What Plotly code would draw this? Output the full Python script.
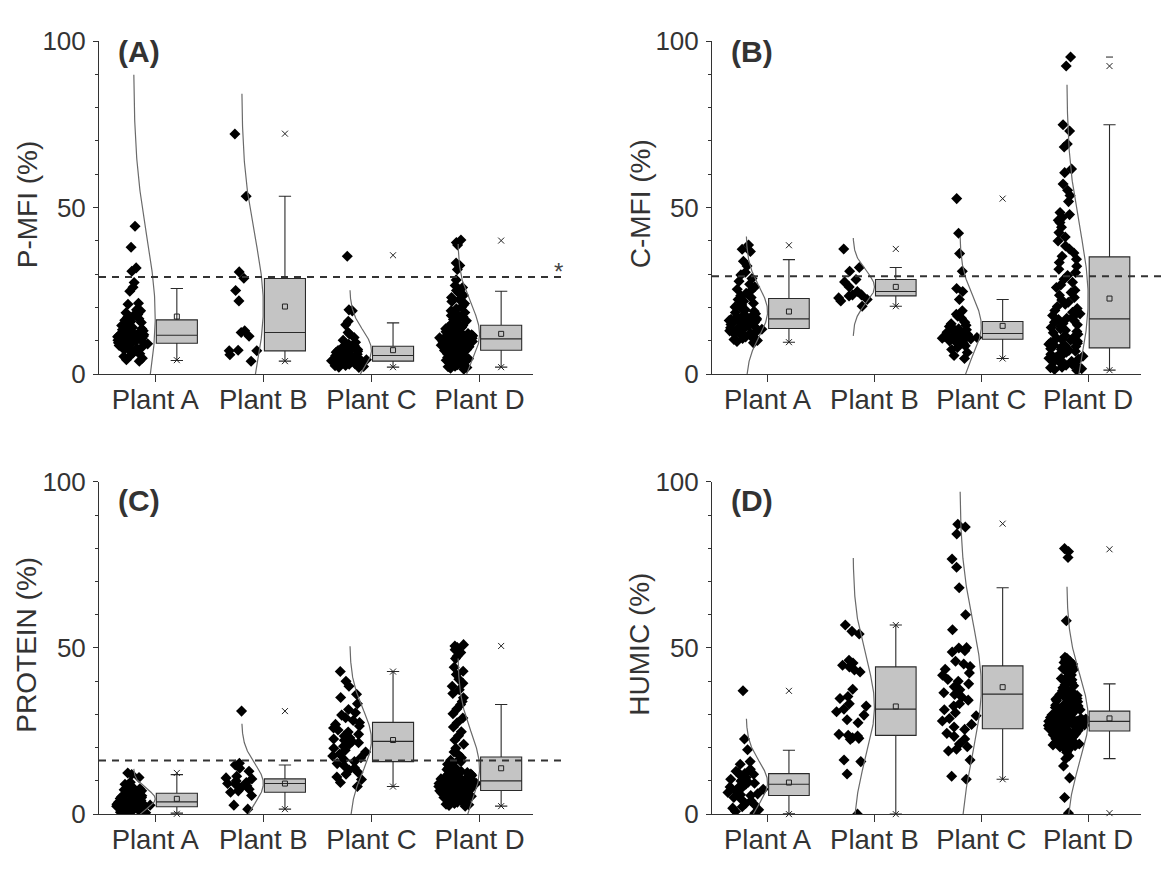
import numpy as np
import plotly.graph_objects as go

# ---------------- data ----------------
plants = ["Plant A", "Plant B", "Plant C", "Plant D"]
panel_labels = ["(A)", "(B)", "(C)", "(D)"]
y_titles = ["P-MFI (%)", "C-MFI (%)", "PROTEIN (%)", "HUMIC (%)"]
thresholds = [29.2, 29.4, 16.1, None]

# raw sample values
pmfi_a = [44.4, 38.1, 31.9, 30.9, 27.5, 26.1, 24.9, 21.3, 21.0, 19.3, 19.0, 18.4, 17.9, 17.6, 17.1, 16.6,
          16.2, 15.8, 15.5, 15.1, 14.6, 14.3, 14.0, 13.6, 13.3, 13.0, 12.7, 12.5, 12.3, 12.1, 11.9, 11.8,
          11.6, 11.4, 11.2, 11.0, 10.9, 10.7, 10.5, 10.3, 10.2, 10.0, 9.9, 9.8, 9.7, 9.5, 9.4, 9.3,
          9.1, 8.8, 8.6, 8.3, 8.0, 7.7, 7.4, 7.1, 6.8, 6.4, 6.1, 5.7, 5.3, 4.8, 4.3, 3.9]
pmfi_b = [72.1, 53.4, 30.7, 28.8, 25.1, 22.0, 13.0, 12.5, 11.4, 7.2, 7.0, 7.0, 5.8, 3.9]
pmfi_c = [35.4, 19.3, 19.0, 15.9, 14.8, 12.5, 12.1, 11.0, 10.2, 9.6, 9.0, 8.6,
          8.3, 8.0, 7.7, 7.4, 7.1, 6.9, 6.6, 6.4, 6.2, 6.0, 5.8, 5.7,
          5.5, 5.3, 5.2, 5.0, 4.8, 4.7, 4.5, 4.4, 4.3, 4.1, 4.0, 3.9,
          3.8, 3.6, 3.5, 3.3, 3.1, 3.0, 2.8, 2.6, 2.5, 2.3, 2.1, 2.0]
pmfi_d = [40.3, 39.5, 38.8, 33.4, 32.6, 31.4, 28.3, 26.6, 26.0, 25.1, 24.4, 23.7, 23.0, 22.4, 21.8,
          21.2, 20.7, 20.1, 19.6, 19.0, 18.5, 18.1, 17.6, 17.2, 16.8, 16.4, 16.0, 15.6, 15.3, 15.0,
          14.6, 14.4, 14.2, 14.0, 13.8, 13.6, 13.4, 13.2, 13.0, 12.8, 12.7, 12.5, 12.3, 12.2, 12.0,
          11.8, 11.7, 11.5, 11.4, 11.3, 11.2, 11.1, 11.0, 10.9, 10.9, 10.8, 10.8, 10.7, 10.7, 10.6,
          10.5, 10.4, 10.3, 10.2, 10.0, 9.9, 9.8, 9.7, 9.6, 9.5, 9.4, 9.2, 9.1, 9.0, 8.9,
          8.8, 8.7, 8.6, 8.5, 8.4, 8.3, 8.2, 8.1, 8.0, 7.8, 7.7, 7.6, 7.5, 7.4, 7.3,
          7.1, 7.0, 6.8, 6.7, 6.5, 6.3, 6.1, 6.0, 5.8, 5.6, 5.4, 5.2, 5.0, 4.8, 4.6,
          4.4, 4.2, 4.0, 3.8, 3.6, 3.4, 3.2, 3.0, 2.8, 2.6, 2.4, 2.2, 2.0, 1.8, 1.5]

cmfi_a = [38.8, 37.5, 36.8, 33.9, 32.5, 30.6, 29.8, 28.7, 27.9, 27.0, 26.2, 25.5, 24.9, 24.3, 23.6, 23.0,
          22.4, 21.9, 21.3, 20.8, 20.2, 19.7, 19.3, 18.9, 18.5, 18.1, 17.8, 17.5, 17.2, 17.0, 16.8, 16.7,
          16.5, 16.3, 16.1, 15.9, 15.7, 15.5, 15.3, 15.1, 14.9, 14.7, 14.5, 14.3, 14.2, 14.0, 13.9, 13.8,
          13.5, 13.3, 13.0, 12.8, 12.5, 12.3, 12.0, 11.8, 11.5, 11.2, 11.0, 10.7, 10.4, 10.1, 9.8, 9.4]
cmfi_b = [37.6, 32.0, 30.9, 28.4, 27.7, 26.2, 24.8, 23.8, 23.8, 23.5, 22.9, 22.4, 22.0, 20.4]
cmfi_c = [52.7, 42.3, 36.2, 30.9, 25.7, 24.8, 22.4, 19.0, 18.0, 17.4, 16.8,
          15.6, 15.1, 14.7, 14.3, 14.0, 13.6, 13.3, 13.0, 12.8, 12.6, 12.4,
          12.1, 11.9, 11.7, 11.5, 11.3, 11.2, 11.0, 10.9, 10.8, 10.6, 10.5,
          10.3, 10.0, 9.7, 9.3, 8.9, 8.5, 8.0, 7.4, 6.5, 5.6, 4.7]
cmfi_d = [95.2, 92.5, 74.9, 73.0, 69.1, 68.2, 61.6, 60.5, 57.1, 55.2, 53.6, 51.8, 48.5, 47.9, 47.0,
          46.2, 45.5, 44.1, 42.5, 41.2, 40.0, 38.5, 37.6, 36.4, 35.4,
          34.5, 33.5, 32.4, 31.5, 30.5, 29.6, 28.5, 27.6, 26.8, 26.0, 25.2, 24.5, 23.7, 23.0, 22.3,
          21.6, 21.0, 20.3, 19.7, 19.1, 18.6, 18.1, 17.6, 17.2, 16.8,
          16.4, 16.0, 15.6, 15.2, 14.8, 14.4, 14.0, 13.6, 13.2, 12.8, 12.4, 12.0, 11.6, 11.2, 10.8,
          10.5, 10.2, 9.9, 9.6, 9.3, 9.0, 8.7, 8.5, 8.3, 8.0,
          7.8, 7.6, 7.4, 7.1, 6.9, 6.6, 6.3, 6.0, 5.7, 5.4, 5.1, 4.8, 4.5, 4.2, 3.9,
          3.6, 3.3, 3.0, 2.7, 2.4, 2.1, 1.9, 1.6, 1.4, 1.2]

prot_a = [12.4, 11.9, 11.0, 9.6, 9.0, 8.4, 8.0, 7.6, 7.3, 7.0, 6.7, 6.4,
          6.2, 6.0, 5.7, 5.5, 5.2, 5.0, 4.7, 4.5, 4.3, 4.1, 3.9, 3.8,
          3.6, 3.5, 3.4, 3.3, 3.2, 3.1, 3.0, 2.9, 2.7, 2.6, 2.4, 2.3,
          2.1, 2.0, 1.8, 1.6, 1.4, 1.2, 1.0, 0.8, 0.6, 0.4, 0.2, 0.1]
prot_b = [31.0, 15.3, 14.8, 13.8, 12.9, 11.4, 10.9, 10.6, 10.0, 9.5, 9.2, 9.0, 8.5, 8.0, 7.5, 7.0, 6.6,
          5.6, 2.7, 1.5]
prot_c = [42.9, 40.0, 38.5, 36.1, 35.1, 33.2, 31.5, 30.5, 29.8, 29.0, 28.2, 27.6,
          27.0, 26.5, 25.9, 25.3, 24.7, 24.0, 23.5, 23.0, 22.6, 22.2, 21.9,
          21.5, 21.0, 20.4, 19.8, 19.2, 18.7, 18.1, 17.5, 17.0, 16.4, 15.8,
          15.2, 14.5, 13.9, 13.3, 12.6, 12.0, 11.2, 10.4, 9.5, 8.3]
prot_d = [51.0, 50.6, 50.1, 49.5, 48.6, 47.5, 46.8, 44.2, 43.0, 42.0, 40.6, 39.4, 38.5, 37.4, 36.3,
          35.0, 33.9, 33.0, 31.6, 30.2, 28.9, 27.5, 26.2, 24.8, 23.6, 22.3, 21.0, 19.8, 18.7, 17.8,
          17.0, 16.6, 16.2, 15.8, 15.4, 15.0, 14.6, 14.3, 14.0, 13.7, 13.4, 13.1, 12.8, 12.5, 12.3,
          12.1, 11.9, 11.7, 11.5, 11.3, 11.1, 10.9, 10.8, 10.7, 10.6, 10.5, 10.4, 10.3, 10.2, 10.1,
          9.9, 9.8, 9.7, 9.6, 9.5, 9.4, 9.3, 9.2, 9.1, 9.0, 8.9, 8.8, 8.7, 8.6, 8.5,
          8.4, 8.3, 8.2, 8.1, 8.0, 7.9, 7.8, 7.7, 7.6, 7.5, 7.4, 7.35, 7.3, 7.2, 7.1,
          7.0, 6.9, 6.8, 6.7, 6.6, 6.5, 6.4, 6.3, 6.2, 6.1, 6.0, 5.9, 5.8, 5.6, 5.4,
          5.2, 5.0, 4.8, 4.6, 4.4, 4.2, 4.0, 3.8, 3.6, 3.4, 3.2, 3.0, 2.8, 2.6, 2.4]

humic_a = [37.1, 22.6, 19.4, 15.8, 15.0, 13.5, 12.9, 12.5, 12.2, 12.0, 11.5, 11.0, 10.5, 10.0, 9.6, 9.3,
           9.0, 8.5, 8.2, 7.8, 7.5, 7.0, 6.5, 6.1, 5.8, 5.6, 5.0, 4.6, 4.0, 3.2, 2.8, 2.2, 1.8, 1.3,
           0.8, 0.3]
humic_b = [56.9, 55.0, 54.2, 46.3, 45.5, 44.8, 44.3, 43.4, 42.8, 37.6, 35.4, 34.8, 33.2, 32.5, 31.6,
           30.8, 29.8, 28.4, 27.5, 24.0, 23.7, 23.5, 23.0, 22.8, 22.5, 16.3, 15.8, 12.1, 0.0]
humic_c = [87.2, 86.4, 84.3, 76.8, 74.3, 68.1, 60.0, 55.5, 50.1, 50.0, 49.2, 48.8, 46.0, 45.2, 44.4,
           43.6, 42.5, 41.8, 40.5, 40.0, 39.2, 38.3, 37.4, 36.5, 36.0, 35.2, 34.3, 33.2, 32.5, 31.4,
           30.5, 29.6, 28.8, 28.0, 27.0, 26.2, 25.5, 24.3, 23.4, 22.6, 21.1, 20.3, 19.5, 19.0, 16.3,
           11.4, 10.5]
humic_d = [79.9, 79.0, 77.2, 58.2, 47.2, 46.9, 46.4, 46.0, 45.6, 45.2, 44.7, 44.3, 43.8, 43.5, 42.9,
           42.6, 41.9, 41.5, 40.8, 40.4, 39.8, 39.5, 38.9, 38.6, 38.0, 37.8, 37.1, 37.0, 36.6, 36.3,
           36.0, 35.7, 35.5, 35.2, 34.8, 34.6, 34.3, 34.1, 33.8, 33.5, 33.2, 33.0, 32.8, 32.5, 32.4,
           32.1, 31.9, 31.8, 31.6, 31.4, 31.3, 31.1,
           30.9, 30.7, 30.5, 30.3, 30.1, 29.9, 29.8, 29.6, 29.5, 29.3, 29.2, 29.1, 29.0, 28.9, 28.8,
           28.7, 28.6, 28.5, 28.4, 28.3, 28.2, 28.15, 28.1, 28.05, 28.0, 27.95, 27.9,
           27.8, 27.7, 27.6, 27.5, 27.4, 27.3, 27.2, 27.1, 27.0, 26.9, 26.8, 26.7, 26.6, 26.5, 26.4,
           26.3, 26.2, 26.1, 26.0, 25.9, 25.8, 25.7, 25.6, 25.5, 25.4, 25.2, 25.0,
           24.9, 24.8, 24.6, 24.5, 24.4, 24.2, 24.0, 23.9, 23.8, 23.5, 23.3, 23.2, 22.9, 22.7, 22.6,
           22.3, 22.1, 22.0, 21.7, 21.5, 21.4, 21.1, 21.0, 20.8, 20.6, 20.5, 20.3, 20.2, 19.9, 19.4,
           18.6, 17.5, 16.7, 14.5, 10.9, 5.0, 0.3]

# box statistics (Plant A..D)
pmfi_q1 = [9.3, 7.0, 3.9, 7.2]
pmfi_med = [11.7, 12.5, 5.6, 10.6]
pmfi_q3 = [16.3, 28.7, 8.4, 14.7]
pmfi_wlo = [4.1, 3.9, 2.1, 2.1]
pmfi_whi = [25.7, 53.4, 15.4, 24.9]
pmfi_mean = [17.3, 20.3, 7.2, 12.1]
pmfi_p99 = [None, 72.2, 35.7, 40.1]
pmfi_p1 = [4.2, 3.9, 2.1, 2.1]
pmfi_max = [None, None, None, None]
pmfi_sd = [24.2, 21.3, 6.0, 9.0]

cmfi_q1 = [13.7, 23.5, 10.5, 7.9]
cmfi_med = [16.6, 24.8, 12.2, 16.6]
cmfi_q3 = [22.7, 28.4, 15.8, 35.2]
cmfi_wlo = [9.6, 20.4, 4.7, 1.2]
cmfi_whi = [34.4, 32.0, 22.4, 74.9]
cmfi_mean = [18.8, 26.2, 14.5, 22.7]
cmfi_p99 = [38.7, 37.6, 52.7, 92.5]
cmfi_p1 = [9.6, 20.4, 4.7, 1.2]
cmfi_max = [None, None, None, 95.2]
cmfi_sd = [7.5, 4.9, 8.9, 21.4]

prot_q1 = [2.2, 6.6, 15.8, 7.1]
prot_med = [3.7, 9.2, 21.9, 10.0]
prot_q3 = [6.3, 10.6, 27.6, 17.2]
prot_wlo = [0.3, 1.5, 8.3, 2.4]
prot_whi = [11.9, 14.8, 42.9, 33.0]
prot_mean = [4.6, 9.2, 22.3, 13.8]
prot_p99 = [12.4, 31.0, 42.9, 50.6]
prot_p1 = [0.1, 1.5, 8.3, 2.4]
prot_max = [None, None, None, None]
prot_sd = [3.0, 6.0, 9.4, 11.0]

humic_q1 = [5.6, 23.7, 25.7, 25.0]
humic_med = [9.0, 31.6, 36.1, 27.9]
humic_q3 = [12.2, 44.3, 44.6, 31.0]
humic_wlo = [0.1, 0.0, 10.5, 16.7]
humic_whi = [19.2, 56.9, 68.1, 39.2]
humic_mean = [9.5, 32.4, 38.2, 28.8]
humic_p99 = [37.1, 56.9, 87.4, 79.7]
humic_p1 = [0.0, 0.0, 10.5, 0.3]
humic_max = [None, None, None, None]
humic_sd = [6.4, 14.9, 19.6, 13.2]

panels = [
    dict(samples=[pmfi_a, pmfi_b, pmfi_c, pmfi_d], q1=pmfi_q1, med=pmfi_med, q3=pmfi_q3,
         wlo=pmfi_wlo, whi=pmfi_whi, mean=pmfi_mean, p99=pmfi_p99, p1=pmfi_p1, mx=pmfi_max, sd=pmfi_sd),
    dict(samples=[cmfi_a, cmfi_b, cmfi_c, cmfi_d], q1=cmfi_q1, med=cmfi_med, q3=cmfi_q3,
         wlo=cmfi_wlo, whi=cmfi_whi, mean=cmfi_mean, p99=cmfi_p99, p1=cmfi_p1, mx=cmfi_max, sd=cmfi_sd),
    dict(samples=[prot_a, prot_b, prot_c, prot_d], q1=prot_q1, med=prot_med, q3=prot_q3,
         wlo=prot_wlo, whi=prot_whi, mean=prot_mean, p99=prot_p99, p1=prot_p1, mx=prot_max, sd=prot_sd),
    dict(samples=[humic_a, humic_b, humic_c, humic_d], q1=humic_q1, med=humic_med, q3=humic_q3,
         wlo=humic_wlo, whi=humic_whi, mean=humic_mean, p99=humic_p99, p1=humic_p1, mx=humic_max, sd=humic_sd),
]

# ---------------- styling / layout ----------------
W, H = 1167, 869
TXT = "#333333"
AXC = "#333333"
FONT = "Liberation Sans, Arial, sans-serif"
Y_MAX = 100
X_RANGE = [-0.52, 3.49]

# panel boxes in pixels: (left, right, top, bottom)
px_boxes = [(99, 532.5, 27, 372), (712, 1140.5, 27, 372),
            (99, 532.5, 483.5, 827.7), (712, 1140.5, 483.5, 827.7)]
label_cy = [38, 38, 502.5, 502.5]
line_ext = [1.077, 1.07, 1.077, None]

SCAT_OFF, SCAT_W = -0.2, 0.36
BOX_OFF, BOX_W = 0.2, 0.38
CURVE_W = 0.2

fig = go.Figure()
layout_axes = {}
annotations = []
shapes = []

for k, p in enumerate(panels):
    xa = "x" if k == 0 else f"x{k+1}"
    ya = "y" if k == 0 else f"y{k+1}"
    l, r, t, b = px_boxes[k]
    pos = np.arange(4)

    # normal-distribution curves
    for i in range(4):
        m, s = p["mean"][i], p["sd"][i]
        zlo = max(-3.0, -m / s)
        z = np.linspace(zlo, 3.0, 160)
        yy = m + z * s
        xx = pos[i] + SCAT_OFF + CURVE_W * np.exp(-0.5 * z ** 2)
        fig.add_trace(go.Scatter(x=xx, y=yy, mode="lines", line=dict(color="#6a6a6a", width=1.2),
                                 xaxis=xa, yaxis=ya, hoverinfo="skip"))

    # jittered sample points
    for i in range(4):
        vals = p["samples"][i]
        fig.add_trace(go.Box(x=[pos[i] + SCAT_OFF] * len(vals), y=vals, boxpoints="all", jitter=1,
                             pointpos=0, width=SCAT_W, fillcolor="rgba(0,0,0,0)",
                             line=dict(width=0, color="rgba(0,0,0,0)"),
                             marker=dict(symbol="diamond", size=8.5, color="black", line=dict(width=0)),
                             xaxis=xa, yaxis=ya, hoveron="points"))

    # box charts from read statistics
    fig.add_trace(go.Box(x=list(pos + BOX_OFF), q1=p["q1"], median=p["med"], q3=p["q3"],
                         lowerfence=p["wlo"], upperfence=p["whi"], width=BOX_W,
                         fillcolor="#c4c4c4", line=dict(color="#2a2a2a", width=1.1),
                         whiskerwidth=0.3, boxpoints=False, xaxis=xa, yaxis=ya))
    # means
    fig.add_trace(go.Scatter(x=list(pos + BOX_OFF), y=p["mean"], mode="markers",
                             marker=dict(symbol="square-open", size=5, color="#222", line=dict(width=1)),
                             xaxis=xa, yaxis=ya))
    # 1% / 99% markers
    fig.add_trace(go.Scatter(x=list(pos + BOX_OFF) * 2, y=list(p["p99"]) + list(p["p1"]), mode="markers",
                             marker=dict(symbol="x-thin-open", size=6, color="#222", line=dict(width=1, color="#222")),
                             xaxis=xa, yaxis=ya, cliponaxis=False))
    # max markers
    fig.add_trace(go.Scatter(x=list(pos + BOX_OFF), y=p["mx"], mode="markers",
                             marker=dict(symbol="line-ew-open", size=5, color="#222", line=dict(width=1, color="#222")),
                             xaxis=xa, yaxis=ya))

    xdom = [l / W, r / W]
    ydom = [1 - b / H, 1 - t / H]
    xkey = "xaxis" if k == 0 else f"xaxis{k+1}"
    ykey = "yaxis" if k == 0 else f"yaxis{k+1}"
    layout_axes[xkey] = dict(domain=xdom, anchor=ya, range=X_RANGE, tickmode="array",
                             tickvals=list(pos), ticktext=plants, ticks="outside", ticklen=7,
                             tickcolor=AXC, tickwidth=1, showline=True, linecolor=AXC, linewidth=1,
                             ticklabelstandoff=-6,
                             showgrid=False, zeroline=False, tickfont=dict(size=27.5, color=TXT, family=FONT))
    layout_axes[ykey] = dict(domain=ydom, anchor=xa, range=[0, Y_MAX], tickmode="array",
                             tickvals=[0, 50, 100], ticks="outside", ticklen=5, tickcolor=AXC, tickwidth=1,
                             ticklabelstandoff=2,
                             minor=dict(tickmode="array", tickvals=[10, 20, 30, 40, 60, 70, 80, 90],
                                        ticks="outside", ticklen=3.5, tickcolor=AXC, tickwidth=1),
                             showline=True, linecolor=AXC, linewidth=1, showgrid=False, zeroline=False,
                             tickfont=dict(size=26, color=TXT, family=FONT))

    # panel label
    annotations.append(dict(text=f"<b>{panel_labels[k]}</b>", xref="paper", yref="paper",
                            x=(l + 17) / W, y=1 - label_cy[k] / H, xanchor="left", yanchor="middle",
                            showarrow=False, font=dict(size=30, color=TXT, family=FONT)))
    # y title
    annotations.append(dict(text=y_titles[k], xref="paper", yref="paper",
                            x=(l - 72) / W, y=1 - (t + (b - t) * 0.49) / H, xanchor="center",
                            yanchor="middle", textangle=-90, showarrow=False,
                            font=dict(size=28, color=TXT, family=FONT)))
    # threshold line
    if thresholds[k] is not None:
        shapes.append(dict(type="line", xref=f"{xa} domain", yref=f"{ya} domain",
                           x0=0, x1=line_ext[k], y0=thresholds[k] / Y_MAX, y1=thresholds[k] / Y_MAX,
                           line=dict(color="#333", width=2, dash="7px,6px")))
        if k == 0:
            annotations.append(dict(text="*", xref=f"{xa} domain", yref=f"{ya} domain",
                                    x=1.06, y=(thresholds[k] + 1.5) / Y_MAX, xanchor="center",
                                    yanchor="middle", showarrow=False,
                                    font=dict(size=24, color="#444", family=FONT)))

fig.update_layout(width=W, height=H, margin=dict(l=0, r=0, t=0, b=0), showlegend=False,
                  paper_bgcolor="white", plot_bgcolor="white", boxmode="overlay",
                  font=dict(family=FONT, color=TXT), annotations=annotations, shapes=shapes,
                  **layout_axes)

fig.write_html("out.html", post_script="document.body.style.margin='0';")
